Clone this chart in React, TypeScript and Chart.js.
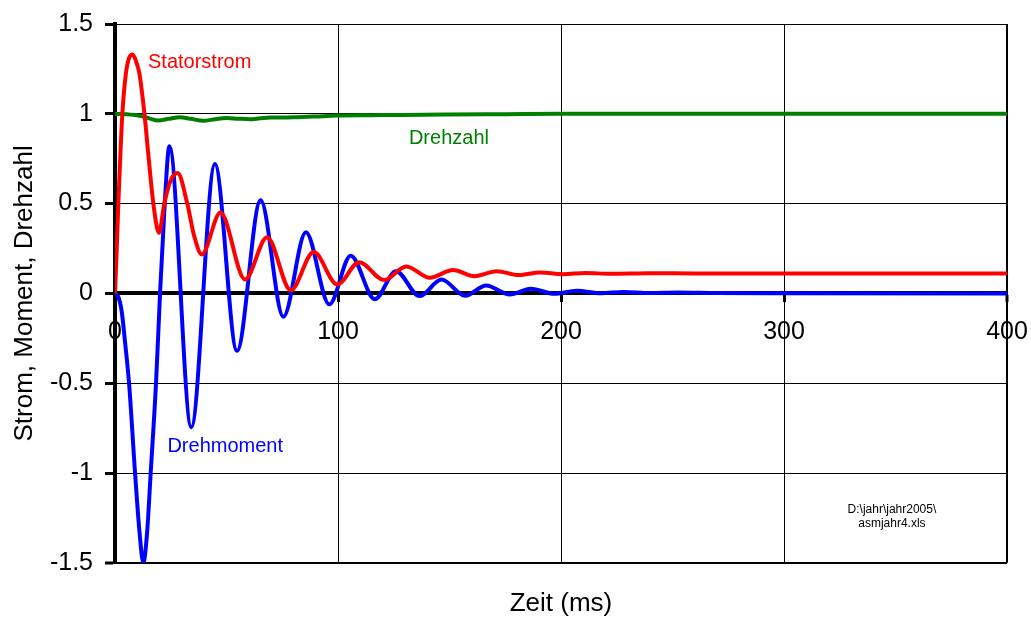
import React, { useEffect, useRef } from "react";
import { Chart, registerables } from "chart.js";

Chart.register(...registerables);

// ---- Data (time in ms) ----
const statorT = [0, 0.7, 1.5, 2.4, 3.3, 4.9, 6.3, 7.9, 9.5, 10.9, 13.2, 15.2, 17.2, 19.7, 22.1, 25, 28.1, 32.4, 35.5, 38.9, 47.3, 58.3, 68.2, 78.8, 89.1, 99.7, 109.5, 120.7, 130.6, 141.2, 151.6, 161.2, 171.2, 181, 190.5, 201, 211, 222, 240, 260, 300, 350, 400];
const statorY = [0, 0.22, 0.5, 0.77, 1.0, 1.226, 1.31, 1.33, 1.29, 1.226, 1.0, 0.74, 0.5, 0.337, 0.5, 0.63, 0.67, 0.5, 0.32, 0.217, 0.45, 0.078, 0.313, 0.018, 0.23, 0.05, 0.174, 0.074, 0.15, 0.087, 0.13, 0.096, 0.124, 0.102, 0.117, 0.107, 0.114, 0.109, 0.112, 0.111, 0.111, 0.111, 0.111];

const momentT = [0, 1.5, 3, 4.5, 6.3, 9, 11, 12.7, 14.4, 16, 18.4, 20.2, 22.3, 24.4, 34.2, 44.8, 54.7, 65.3, 75.5, 85.6, 96.1, 105.7, 116.5, 126, 136.6, 146.4, 157, 166.4, 177, 186.5, 197, 207, 218, 228, 240, 252, 270, 300, 400];
const momentY = [0, -0.02, -0.1, -0.27, -0.5, -1.0, -1.33, -1.5, -1.33, -1.0, -0.5, 0, 0.5, 0.82, -0.746, 0.72, -0.32, 0.518, -0.13, 0.34, -0.061, 0.21, -0.032, 0.124, -0.015, 0.077, -0.013, 0.044, -0.006, 0.026, -0.002, 0.015, 0.001, 0.008, 0.002, 0.005, 0.002, 0.001, 0];

const drehzahlT = [0, 5, 9, 12.7, 16, 19.4, 24, 29.1, 34, 39.6, 45, 50, 55, 60.5, 65, 69.5, 75, 81.5, 90, 99.4, 115, 129, 150, 175, 200, 250, 300, 400];
const drehzahlY = [1.0, 0.998, 0.993, 0.985, 0.972, 0.963, 0.972, 0.981, 0.972, 0.961, 0.97, 0.976, 0.973, 0.97, 0.975, 0.98, 0.979, 0.981, 0.985, 0.99, 0.992, 0.994, 0.996, 0.998, 1.0, 1.0, 1.0, 1.0];

const xTickValues = [0, 100, 200, 300, 400];
const xTickLabels = ["0", "100", "200", "300", "400"];
const yTickValues = [-1.5, -1, -0.5, 0, 0.5, 1, 1.5];
const yTickLabels = ["-1.5", "-1", "-0.5", "0", "0.5", "1", "1.5"];

const xTitle = "Zeit (ms)";
const yTitle = "Strom, Moment, Drehzahl";

// in-plot texts (anchored in data coordinates)
const noteTexts = ["Statorstrom", "Drehzahl", "Drehmoment", "D:\\jahr\\jahr2005\\", "asmjahr4.xls"];
const noteX = [14.8, 131.8, 23.5, 348.4, 348.4];
const noteY = [1.285, 0.863, -0.85, -1.202, -1.285];
const noteColors = ["#ff0000", "#008000", "#0000ff", "#000000", "#000000"];
const noteSizes = [20, 20, 20, 12, 12];
const noteAligns: CanvasTextAlign[] = ["left", "left", "left", "center", "center"];

const FONT = '"Liberation Sans", Arial, sans-serif';

const notesPlugin = {
  id: "notes",
  afterDatasetsDraw(chart: any) {
    const { ctx } = chart;
    const xs = chart.scales.x;
    const ys = chart.scales.y;
    ctx.save();
    noteTexts.forEach((t, i) => {
      ctx.font = `${noteSizes[i]}px ${FONT}`;
      ctx.fillStyle = noteColors[i];
      ctx.textAlign = noteAligns[i];
      ctx.textBaseline = "middle";
      ctx.fillText(t, xs.getPixelForValue(noteX[i]), ys.getPixelForValue(noteY[i]));
    });
    ctx.restore();
  },
};

const toPoints = (xs: number[], ys: number[]) => xs.map((x, i) => ({ x, y: ys[i] }));

export default function App() {
  const ref = useRef<HTMLCanvasElement>(null);
  useEffect(() => {
    if (!ref.current) return;
    const chart = new Chart(ref.current, {
      type: "line",
      data: {
        datasets: [
          {
            label: "Statorstrom",
            data: toPoints(statorT, statorY),
            borderColor: "#ff0000",
            borderWidth: 4,
            pointRadius: 0,
            cubicInterpolationMode: "monotone",
            fill: false,
          },
          {
            label: "Drehmoment",
            data: toPoints(momentT, momentY),
            borderColor: "#0000ff",
            borderWidth: 4,
            pointRadius: 0,
            cubicInterpolationMode: "monotone",
            fill: false,
          },
          {
            label: "Drehzahl",
            data: toPoints(drehzahlT, drehzahlY),
            borderColor: "#008000",
            borderWidth: 4,
            pointRadius: 0,
            cubicInterpolationMode: "monotone",
            fill: false,
          },
        ],
      },
      options: {
        animation: false,
        responsive: true,
        maintainAspectRatio: false,
        layout: { padding: { top: 24, right: 24, left: 0, bottom: 0 } },
        plugins: {
          legend: { display: false },
          tooltip: { enabled: false },
          title: {
            display: true,
            text: xTitle,
            position: "bottom",
            fullSize: false,
            color: "#000",
            font: { family: FONT, size: 26, weight: "normal" },
            padding: { top: 25, bottom: 0 },
          },
        },
        scales: {
          x: {
            type: "linear",
            min: 0,
            max: 400,
            position: { y: 0 } as any,
            afterBuildTicks: (s: any) => {
              s.ticks = xTickValues.map((v) => ({ value: v }));
            },
            afterFit: (s: any) => {
              s.paddingLeft = 0;
              s.paddingRight = 0;
            },
            ticks: {
              autoSkip: false,
              maxRotation: 0,
              color: "#000",
              font: { family: FONT, size: 25 },
              padding: 17,
              callback: (v: any) => xTickLabels[xTickValues.indexOf(Number(v))] ?? "",
            },
            grid: {
              color: "#000",
              lineWidth: (c: any) => (c.tick && c.tick.value === 400 ? 2 : 1),
              drawTicks: true,
              tickLength: 7,
              tickWidth: 3,
              tickColor: "#000",
            },
            border: { display: true, color: "#000", width: 4 },
          },
          y: {
            type: "linear",
            min: -1.5,
            max: 1.5,
            position: "left",
            afterBuildTicks: (s: any) => {
              s.ticks = yTickValues.map((v) => ({ value: v }));
            },
            afterFit: (s: any) => {
              s.width = 115;
              s.paddingTop = 0;
              s.paddingBottom = 0;
            },
            ticks: {
              color: "#000",
              font: { family: FONT, size: 25 },
              padding: 12,
              callback: (v: any) => yTickLabels[yTickValues.indexOf(Number(v))] ?? "",
            },
            grid: {
              color: "#000",
              lineWidth: (c: any) => (c.tick && c.tick.value === -1.5 ? 2 : 1),
              drawTicks: true,
              tickLength: 10,
              tickWidth: 3,
              tickColor: "#000",
            },
            border: { display: true, color: "#000", width: 4 },
            title: {
              display: true,
              text: yTitle,
              color: "#000",
              font: { family: FONT, size: 26 },
              padding: { top: 9, bottom: 0 },
            },
          },
        },
      },
      plugins: [notesPlugin],
    } as any);
    return () => chart.destroy();
  }, []);

  return (
    <div style={{ position: "absolute", left: 0, top: 0, width: 1031, height: 619, background: "#fff" }}>
      <canvas ref={ref} />
    </div>
  );
}
